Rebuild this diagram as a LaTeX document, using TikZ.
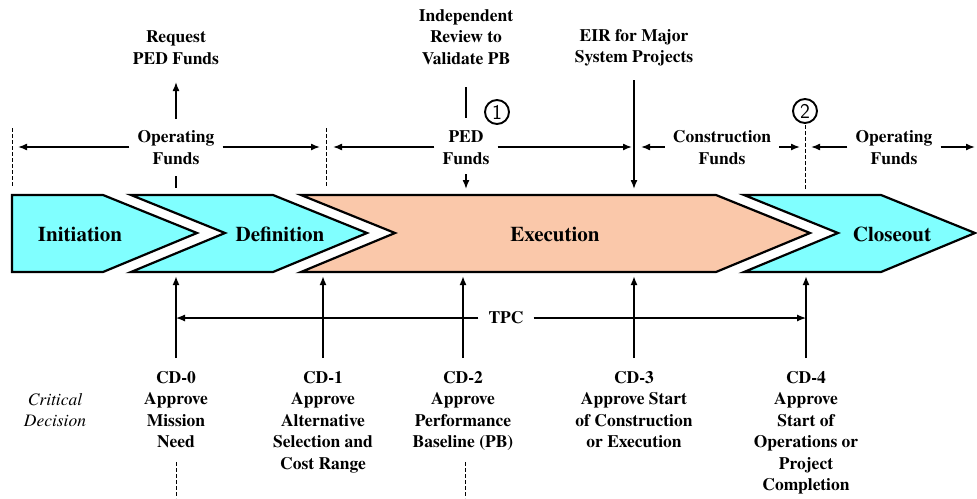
\documentclass[tikz,border=0pt]{standalone}
\usepackage{fontspec}
\setmainfont{texgyretermes}[Extension=.otf,
    UprightFont=*-regular, BoldFont=*-bold,
    ItalicFont=*-italic, BoldItalicFont=*-bolditalic]
\usetikzlibrary{arrows.meta}
\definecolor{phasecyan}{RGB}{128,255,255}
\definecolor{phasepeach}{RGB}{250,200,170}
\begin{document}
\begin{tikzpicture}[x=1pt,y=-1pt,
  lbl/.style={font=\bfseries\fontsize{17.5}{21.5}\selectfont, align=center, inner sep=0pt},
  note/.style={font=\itshape\fontsize{17.5}{21}\selectfont, align=center, inner sep=0pt},
  phase/.style={draw=black, line width=2.2pt, line join=miter},
  phasetxt/.style={font=\bfseries\fontsize{21}{24}\selectfont, inner sep=0pt},
  arr/.style={line width=1.5pt, -{Latex[length=9pt,width=7pt]}},
  tick/.style={line width=1.5pt},
  guide/.style={line width=1pt, dash pattern=on 3.5pt off 2.5pt},
  num/.style={circle, draw, line width=1.9pt, minimum size=24pt, inner sep=0pt,
              font=\fontsize{21}{21}\selectfont\sffamily}
]
\useasboundingbox (0,0) rectangle (977,498);

% ---- phase band ----
\path[phase, fill=phasecyan]
  (12,195) -- (103,195) -- (197,233) -- (103,272) -- (12,272) -- cycle;
\path[phase, fill=phasecyan]
  (131,195) -- (273,195) -- (367,233) -- (273,272) -- (131,272) -- (225,233) -- cycle;
\path[phase, fill=phasepeach]
  (301,195) -- (716,195) -- (810,233) -- (716,272) -- (301,272) -- (395,233) -- cycle;
\path[phase, fill=phasecyan]
  (744,195) -- (881,195) -- (975,233) -- (881,272) -- (744,272) -- (838,233) -- cycle;

\node[phasetxt] (init)  at (80,234)  {Initiation};
\node[phasetxt] (defn)  at (280,234) {Definition};
\node[phasetxt] (exec)  at (555,234) {Execution};
\node[phasetxt] (close) at (892,234) {Closeout};

% ---- funding above the band ----
\node[lbl] (req)   at (176,47.5) {Request\\PED Funds};
\node[lbl] (indep) at (466,37)   {Independent\\Review to\\Validate PB};
\node[lbl] (eir)   at (634,47.5) {EIR for Major\\System Projects};

\node[lbl] (opf1) at (176,147.5) {Operating\\Funds};
\node[lbl] (ped)  at (466,147.5) {PED\\Funds};
\node[lbl] (con)  at (722,147.5) {Construction\\Funds};
\node[lbl] (opf2) at (894,147.5) {Operating\\Funds};

\node[num] (n1) at (497,112) {1};
\node[num] (n2) at (805,111) {2};

% request arrow
\coordinate (reqlow) at (176,119);
\coordinate (reqtip) at (176,82);
\draw[arr] (reqlow) -- (reqtip);
% independent review line
\coordinate (indtop) at (466,87);
\coordinate (indlow) at (466,118);
\draw[tick] (indtop) -- (indlow);
% EIR arrow into the band
\coordinate (eirtop) at (634,80);
\coordinate (eirtip) at (634,189);
\draw[arr] (eirtop) -- (eirtip);

% funding spans
\coordinate (g0) at (18,147);
\coordinate (g1a) at (320,147);
\coordinate (g1b) at (333,147);
\coordinate (g2) at (632,147);
\coordinate (g2b) at (641,147);
\coordinate (g3a) at (800,147);
\coordinate (g3b) at (811,147);
\coordinate (g4) at (975,147);
\draw[arr] ([xshift=-8pt]opf1.west |- g0) -- (g0);
\draw[arr] ([xshift=8pt]opf1.east |- g0) -- (g1a);
\draw[arr] ([xshift=-8pt]ped.west |- g0) -- (g1b);
\draw[arr] ([xshift=8pt]ped.east |- g0) -- (g2);
\draw[arr] ([xshift=-8pt]con.west |- g0) -- (g2b);
\draw[arr] ([xshift=8pt]con.east |- g0) -- (g3a);
\draw[arr] ([xshift=-8pt]opf2.west |- g0) -- (g3b);
\draw[arr] ([xshift=8pt]opf2.east |- g0) -- (g4);

% phase boundaries
\coordinate (b0t) at (12,128);  \coordinate (b0b) at (12,186);
\coordinate (b1t) at (326,128); \coordinate (b1b) at (326,186);
\coordinate (b2t) at (805,125); \coordinate (b2b) at (805,189);
\draw[guide] (b0t) -- (b0b);
\draw[guide] (b1t) -- (b1b);
\draw[guide] (b2t) -- (b2b);

% short marks under the fund labels
\coordinate (m1t) at (176,176); \coordinate (m1b) at (176,188);
\draw[tick] (m1t) -- (m1b);
\coordinate (m2t) at (466,174); \coordinate (m2b) at (466,189);
\draw[arr] (m2t) -- (m2b);

% ---- critical decisions below the band ----
\foreach \x/\nm in {176/c0,323/c1,463/c2,634/c3,806/c4}{
  \coordinate (\nm low) at (\x,358);
  \coordinate (\nm tip) at (\x,276);
  \draw[arr, line width=1.8pt] (\nm low) -- (\nm tip);
}

\node[lbl] (tpc) at (506,318) {TPC};
\coordinate (tpcl) at (176,318);
\coordinate (tpcr) at (806,318);
\draw[arr, line width=1.2pt] ([xshift=-10pt]tpc.west) -- (tpcl);
\draw[arr, line width=1.2pt] ([xshift=10pt]tpc.east) -- (tpcr);

\node[lbl, anchor=north] (cd0) at (176,371) {CD-0\\Approve\\Mission\\Need};
\node[lbl, anchor=north] (cd1) at (323,371) {CD-1\\Approve\\Alternative\\Selection and\\Cost Range};
\node[lbl, anchor=north] (cd2) at (463,371) {CD-2\\Approve\\Performance\\Baseline (PB)};
\node[lbl, anchor=north] (cd3) at (634,371) {CD-3\\Approve Start\\of Construction\\or Execution};
\node[lbl, anchor=north] (cd4) at (806,371) {CD-4\\Approve\\Start of\\Operations or\\Project\\Completion};

\node[note] (crit) at (55,410) {Critical\\Decision};

\coordinate (d0t) at (176,462); \coordinate (d0b) at (176,498);
\coordinate (d2t) at (465,462); \coordinate (d2b) at (465,498);
\draw[guide] (d0t) -- (d0b);
\draw[guide] (d2t) -- (d2b);
\end{tikzpicture}
\end{document}
